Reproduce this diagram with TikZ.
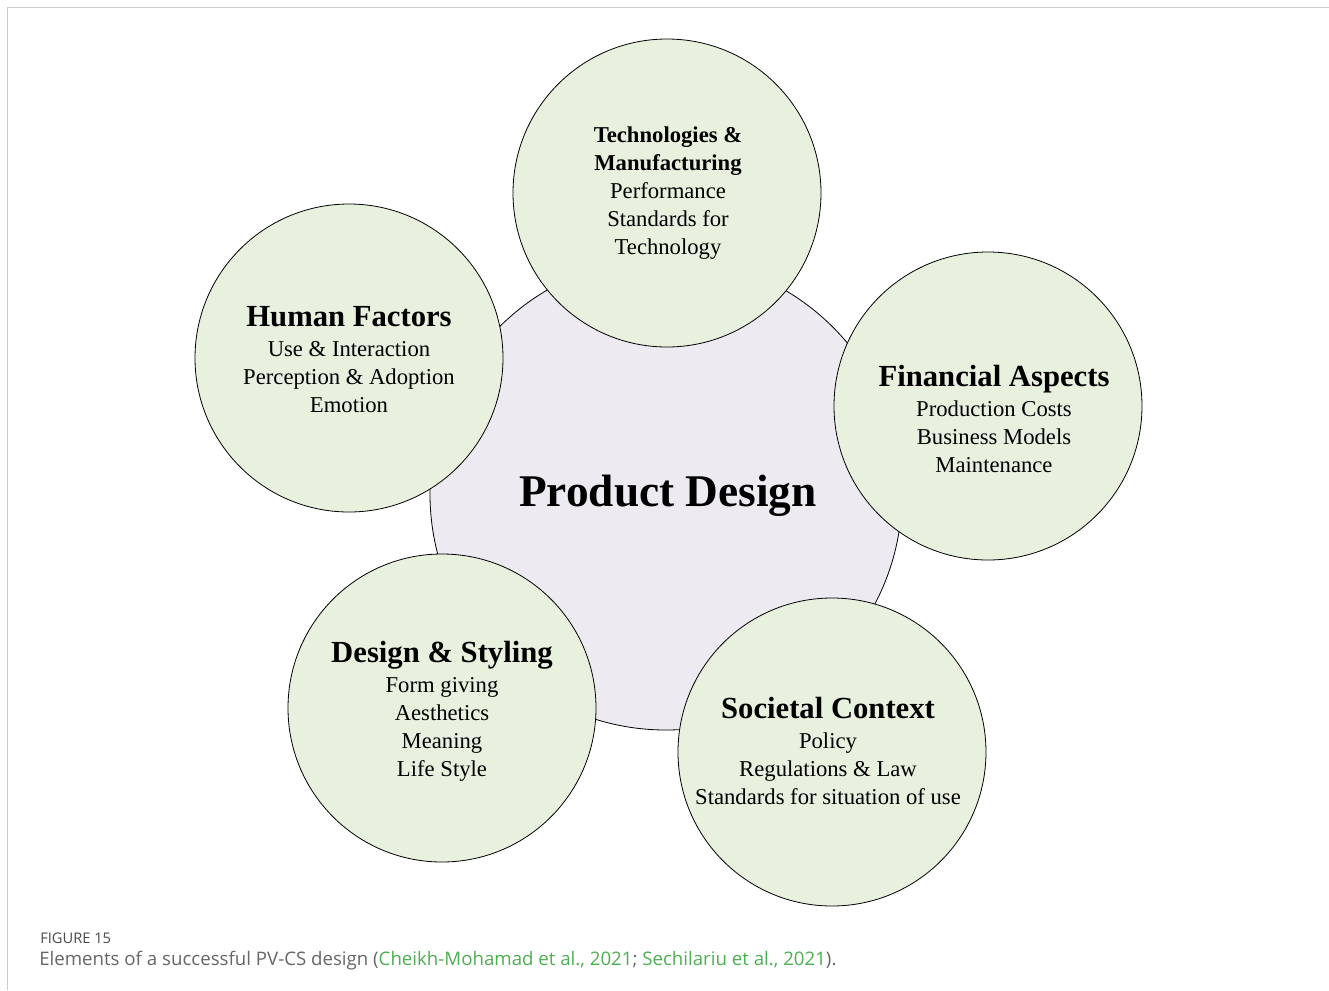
\documentclass[tikz,border=0pt]{standalone}
\usepackage{fontspec}
\setmainfont{Liberation Serif}
\newfontfamily\capfont{Open Sans}
\definecolor{petal}{HTML}{E8F0DE}
\definecolor{core}{HTML}{EDEAF2}
\definecolor{framegray}{HTML}{CCCCCC}
\definecolor{capgray}{HTML}{666666}
\definecolor{capdark}{HTML}{4A4A4A}
\definecolor{linkgreen}{HTML}{4CAF50}
\tikzset{
  petalcircle/.style={circle, draw=black, line width=0.6pt, fill=petal, minimum size=231pt, inner sep=0pt},
  corecircle/.style={circle, draw=black, line width=0.6pt, fill=core, minimum size=354pt, inner sep=0pt},
  petaltext/.style={align=center, font=\fontsize{17}{21}\selectfont},
}
\newcommand{\ptitle}[1]{{\fontsize{23}{26}\selectfont\bfseries #1}}
\begin{document}
\begin{tikzpicture}[x=0.75pt,y=-0.75pt]
\useasboundingbox (0,0) rectangle (1329,990);
% frame
\draw[framegray, line width=1.2pt] (7.5,990) coordinate (fl) -- (7.5,7.5) coordinate (fc) -- (1329,7.5) coordinate (fr);
% central circle
\node[corecircle] (core) at (666,494) {};
\node[font=\fontsize{34}{40}\selectfont\bfseries] (coretext) at (668,496) {Product Design};
% petals
\node[petalcircle] (tech) at (667,193) {};
\node[petalcircle] (human) at (349,358) {};
\node[petalcircle] (fin) at (988,406) {};
\node[petalcircle] (design) at (442,708) {};
\node[petalcircle] (soc) at (832,752) {};
% petal texts
\node[petaltext] (techtext) at (668,193) {\textbf{Technologies \&}\\\textbf{Manufacturing}\\Performance\\Standards for\\Technology};
\node[petaltext] (humantext) at (349,360) {\ptitle{Human Factors}\\[1.5pt]Use \& Interaction\\Perception \& Adoption\\Emotion};
\node[petaltext] (fintext) at (994,419) {\ptitle{Financial Aspects}\\[1.5pt]Production Costs\\Business Models\\Maintenance};
\node[petaltext] (designtext) at (442,711) {\ptitle{Design \& Styling}\\[1.5pt]Form giving\\Aesthetics\\Meaning\\Life Style};
\node[petaltext] (soctext) at (828,751) {\ptitle{Societal Context}\\[1.5pt]Policy\\Regulations \& Law\\Standards for situation of use};
% caption
\node[anchor=base west, inner sep=0pt, font=\capfont\fontsize{11}{12}\selectfont, text=capdark] (figlabel) at (40,943) {FIGURE 15};
\node[anchor=base west, inner sep=0pt, font=\capfont\fontsize{14}{16}\selectfont, text=capgray] (caption) at (39,965) {Elements of a successful PV-CS design (\textcolor{linkgreen}{Cheikh-Mohamad et al., 2021}; \textcolor{linkgreen}{Sechilariu et al., 2021}).};
\end{tikzpicture}
\end{document}
